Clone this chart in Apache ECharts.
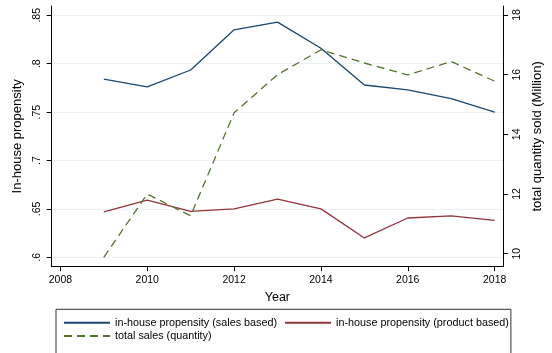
<!DOCTYPE html>
<html>
<head>
<meta charset="utf-8">
<script src="https://cdn.jsdelivr.net/npm/echarts@6/dist/echarts.min.js"></script>
<style>
  html, body { margin: 0; padding: 0; background: #fff; }
  #chart { width: 552px; height: 353px; }
</style>
</head>
<body>
<div id="chart"></div>
<script>
// data
const years = [2009, 2010, 2011, 2012, 2013, 2014, 2015, 2016, 2017, 2018];
const salesBased = [0.784, 0.776, 0.7935, 0.835, 0.843, 0.816, 0.778, 0.773, 0.764, 0.750];
const productBased = [0.647, 0.659, 0.6475, 0.650, 0.660, 0.650, 0.620, 0.6406, 0.6427, 0.6382];
const totalSales = [9.88, 12.0, 11.27, 14.72, 16.0, 16.83, 16.39, 15.99, 16.44, 15.78];

const xTicks = [2008, 2010, 2012, 2014, 2016, 2018];
const leftTicks = [0.6, 0.65, 0.7, 0.75, 0.8, 0.85];
const rightTicks = [10, 12, 14, 16, 18];

const names = [
  'in-house propensity (sales based)',
  'in-house propensity (product based)',
  'total sales (quantity)'
];

const pairs = (vals) => years.map((y, i) => [y, vals[i]]);

const font = 'Liberation Sans, Arial, Helvetica, sans-serif';
const axisColor = '#000';

let myChart = echarts.init(document.getElementById('chart'), null, { renderer: 'canvas' });

let option = {
  animation: false,
  backgroundColor: '#fff',
  textStyle: { fontFamily: font },
  grid: { left: 51.7, right: 36, top: 6, bottom: 86.3 },
  legend: [
    {
      data: [names[0], names[1]],
      left: 56, top: 309.3,
      orient: 'horizontal',
      itemWidth: 46, itemHeight: 6, itemGap: 7,
      padding: [8, 2, 40, 7],
      borderColor: '#333', borderWidth: 1,
      itemStyle: { opacity: 0 },
      textStyle: { fontSize: 10.8, color: '#000', fontFamily: font }
    },
    {
      data: [names[2]],
      left: 56, top: 330.5,
      itemWidth: 46, itemHeight: 6,
      padding: [0, 0, 0, 7],
      itemStyle: { opacity: 0 },
      textStyle: { fontSize: 10.8, color: '#000', fontFamily: font }
    }
  ],
  xAxis: {
    type: 'value',
    min: 2007.8, max: 2018.195,
    name: 'Year', nameLocation: 'middle', nameGap: 19,
    nameTextStyle: { fontSize: 12.5, color: '#000', fontFamily: font },
    axisLine: { show: true, lineStyle: { color: axisColor, width: 1 } },
    axisTick: { show: true, length: 4.5, customValues: xTicks, lineStyle: { color: axisColor } },
    axisLabel: {
      customValues: xTicks, fontSize: 10.5, color: '#000', margin: 8, fontFamily: font,
      formatter: (v) => String(v)
    },
    splitLine: { show: false }
  },
  yAxis: [
    {
      type: 'value',
      position: 'left',
      min: 0.5903, max: 0.8596,
      name: 'In-house propensity', nameLocation: 'middle', nameGap: 26, nameRotate: 90,
      nameTextStyle: { fontSize: 13, color: '#000', fontFamily: font },
      axisLine: { show: true, lineStyle: { color: axisColor, width: 1 } },
      axisTick: { show: true, length: 5, customValues: leftTicks, lineStyle: { color: axisColor } },
      axisLabel: {
        customValues: leftTicks, rotate: 90, fontSize: 10.5, color: '#000', margin: 9, fontFamily: font,
        formatter: (v) => String(+v.toFixed(2)).replace(/^0/, '')
      },
      splitLine: { show: true, lineStyle: { color: '#eaf2f3', width: 1.2 } }
    },
    {
      type: 'value',
      position: 'right',
      min: 9.564, max: 18.30,
      name: 'total quantity sold (Million)', nameLocation: 'middle', nameGap: 22, nameRotate: 90,
      nameTextStyle: { fontSize: 13, color: '#000', fontFamily: font },
      axisLine: { show: true, lineStyle: { color: axisColor, width: 1 } },
      axisTick: { show: true, length: 5, customValues: rightTicks, lineStyle: { color: axisColor } },
      axisLabel: { customValues: rightTicks, rotate: 90, fontSize: 10.5, color: '#000', margin: 9, fontFamily: font },
      splitLine: { show: false }
    }
  ],
  series: [
    {
      name: names[0], type: 'line', yAxisIndex: 0, symbol: 'none',
      data: pairs(salesBased),
      lineStyle: { color: '#1a476f', width: 1.3 }, itemStyle: { color: '#1a476f' }
    },
    {
      name: names[1], type: 'line', yAxisIndex: 0, symbol: 'none',
      data: pairs(productBased),
      lineStyle: { color: '#90353b', width: 1.3 }, itemStyle: { color: '#90353b' }
    },
    {
      name: names[2], type: 'line', yAxisIndex: 1, symbol: 'none',
      data: pairs(totalSales),
      lineStyle: { color: '#55752f', width: 1.3, type: [8, 5] }, itemStyle: { color: '#55752f' }
    }
  ]
};

myChart.setOption(option);
</script>
</body>
</html>
